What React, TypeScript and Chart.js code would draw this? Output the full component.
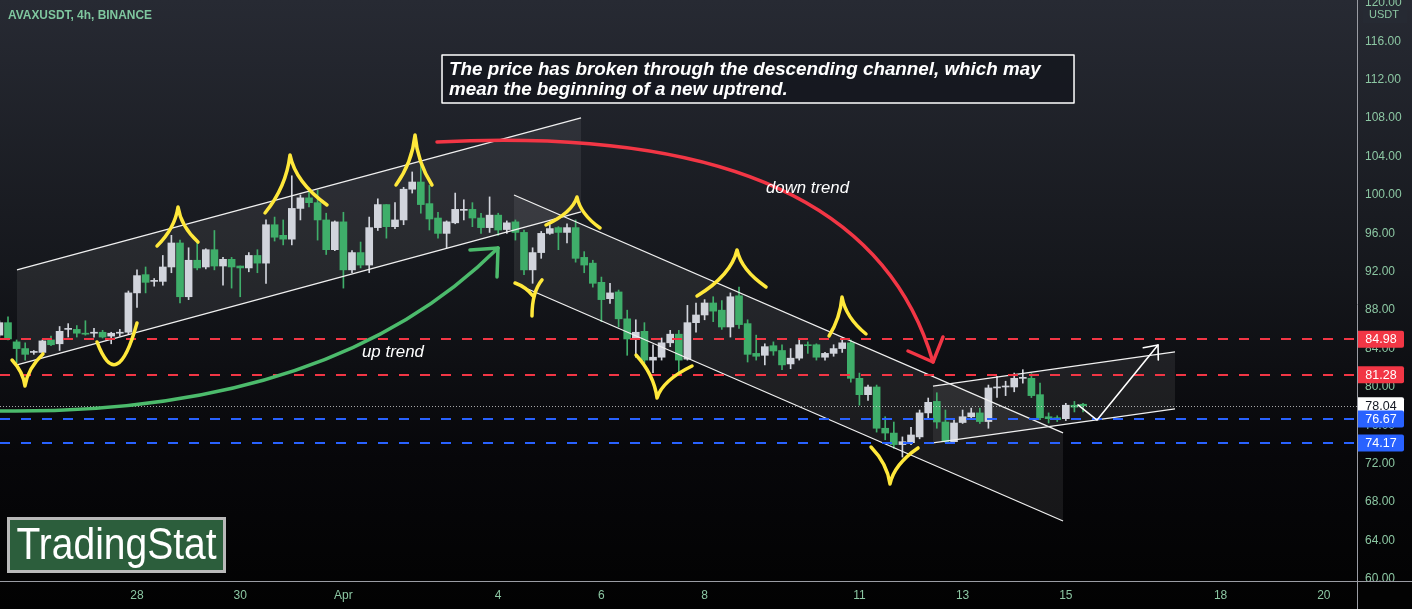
import React, { useEffect, useRef } from "react";
import { Chart, registerables } from "chart.js";

Chart.register(...registerables);

// 4h candles; index 0 = Mar 28 00:00. First candle index:
const FIRST_INDEX = -16;
const CANDLES_PER_DAY = 6;

const opens = [
  85.4, 86.7, 84.7, 84.0, 83.6, 83.6, 84.9, 84.5, 86.0, 86.0, 85.6, 85.6, 85.7, 85.3, 85.6, 85.7,
  89.8, 91.7, 91.0, 91.0, 92.5, 95.0, 89.4, 93.2, 92.5, 94.3, 92.6, 93.3, 92.6, 92.4, 93.7, 92.9,
  96.9, 95.8, 95.4, 98.6, 99.7, 99.2, 97.4, 94.3, 97.2, 92.2, 94.0, 92.7, 96.6, 99.0, 96.7, 97.4,
  100.6, 101.35, 99.1, 97.6, 96.0, 97.1, 98.4, 98.5, 97.6, 96.6, 97.9, 96.4, 97.2, 96.1, 92.2, 94.0,
  96.0, 96.6, 96.1, 96.6, 93.5, 92.9, 90.9, 89.2, 89.9, 87.1, 85.1, 85.8, 82.8, 83.1, 84.6, 85.5,
  82.9, 86.7, 87.5, 88.75, 88.0, 86.25, 89.5, 86.6, 83.5, 83.3, 84.3, 83.8, 82.4, 83.0, 84.4, 84.4,
  83.1, 83.5, 84.0, 84.6, 80.9, 79.2, 80.0, 75.7, 75.2, 74.0, 74.2, 74.8, 77.3, 78.5, 76.35, 74.3,
  76.3, 76.9, 77.3, 76.4, 79.9, 80.0, 80.0, 80.9, 80.9, 79.2, 76.9, 76.8, 76.7, 78.1, 78.2,
];
const highs = [
  86.9, 87.3, 84.9, 84.6, 83.8, 84.9, 85.3, 86.3, 86.6, 86.4, 86.9, 86.1, 85.9, 85.7, 86.0, 90.0,
  92.2, 92.5, 91.3, 93.7, 95.8, 95.3, 94.5, 95.1, 94.4, 96.3, 93.5, 93.5, 92.6, 94.0, 94.3, 97.4,
  97.7, 97.4, 102.0, 100.0, 100.3, 100.5, 98.1, 97.3, 98.2, 94.2, 95.1, 97.7, 99.6, 99.0, 99.2, 100.8,
  102.4, 103.3, 101.0, 98.2, 97.3, 100.2, 99.5, 99.2, 98.1, 99.8, 98.1, 97.3, 97.4, 96.35, 94.5, 96.2,
  96.9, 96.7, 97.0, 97.4, 94.1, 93.2, 91.45, 90.8, 90.1, 88.0, 87.0, 86.7, 84.4, 85.1, 85.9, 85.9,
  88.5, 88.75, 89.1, 89.4, 89.0, 89.8, 90.4, 87.0, 85.4, 84.5, 84.7, 84.4, 84.0, 84.9, 84.7, 84.5,
  83.6, 84.4, 85.1, 84.9, 81.45, 80.2, 80.2, 76.9, 76.35, 74.8, 75.8, 77.6, 78.85, 79.4, 77.6, 76.6,
  77.6, 77.8, 77.8, 80.2, 81.1, 80.6, 81.45, 81.8, 81.4, 80.4, 77.3, 77.0, 78.3, 78.5, 78.3,
];
const lows = [
  85.2, 84.9, 82.5, 82.8, 83.4, 83.5, 84.3, 83.8, 85.2, 85.2, 85.4, 85.2, 85.1, 84.5, 85.3, 85.5,
  88.3, 89.8, 90.5, 90.6, 91.9, 88.75, 89.1, 92.2, 92.3, 92.2, 90.6, 90.3, 89.4, 92.0, 91.9, 90.8,
  95.2, 94.8, 94.8, 97.4, 98.75, 95.3, 93.8, 94.2, 90.3, 91.9, 92.4, 91.9, 96.3, 95.5, 96.5, 96.9,
  100.2, 98.1, 96.35, 95.5, 94.5, 97.0, 97.4, 96.7, 96.0, 96.1, 95.8, 96.0, 95.3, 91.7, 90.8, 93.4,
  95.9, 94.3, 95.0, 93.0, 91.9, 90.4, 86.8, 88.7, 86.25, 83.3, 83.1, 82.5, 81.5, 82.8, 84.2, 81.25,
  82.8, 85.7, 87.0, 86.8, 86.0, 85.2, 86.1, 82.6, 82.8, 82.3, 83.3, 81.8, 81.9, 82.8, 83.5, 82.8,
  82.8, 83.2, 83.6, 80.5, 78.1, 78.6, 75.3, 74.5, 73.6, 72.7, 74.0, 74.6, 76.8, 75.7, 74.2, 74.1,
  76.2, 76.7, 76.2, 75.7, 78.9, 79.1, 79.5, 80.4, 78.9, 76.6, 76.25, 76.4, 76.5, 77.4, 77.4,
];
const closes = [
  86.7, 85.0, 84.0, 83.4, 83.7, 84.8, 84.4, 85.8, 86.1, 85.6, 85.5, 85.7, 85.2, 85.6, 85.7, 89.8,
  91.6, 90.9, 91.1, 92.5, 95.0, 89.4, 93.2, 92.4, 94.3, 92.6, 93.3, 92.5, 92.4, 93.7, 92.9, 96.9,
  95.6, 95.4, 98.6, 99.7, 99.2, 97.4, 94.3, 97.2, 92.2, 94.0, 92.7, 96.6, 99.0, 96.7, 97.4, 100.6,
  101.35, 99.0, 97.5, 96.0, 97.2, 98.5, 98.5, 97.6, 96.6, 97.9, 96.35, 97.1, 96.1, 92.2, 94.0, 96.0,
  96.5, 96.1, 96.6, 93.4, 92.7, 90.8, 89.1, 89.8, 87.1, 85.0, 85.7, 82.8, 83.1, 84.6, 85.5, 82.8,
  86.7, 87.5, 88.75, 87.9, 86.25, 89.4, 86.5, 83.4, 83.2, 84.2, 83.75, 82.3, 83.0, 84.4, 84.3, 83.1,
  83.5, 84.0, 84.6, 80.9, 79.2, 80.0, 75.7, 75.2, 74.0, 74.3, 75.0, 77.3, 78.4, 76.35, 74.3, 76.25,
  76.9, 77.3, 76.4, 79.9, 80.0, 80.1, 80.9, 81.0, 79.1, 76.8, 76.7, 76.6, 78.1, 77.9, 78.04,
];

// axis ticks (days from Mar 28)
const dateTickDays = [0, 2, 4, 7, 9, 11, 14, 16, 18, 21, 23];
const dateTickLabels = ["28", "30", "Apr", "4", "6", "8", "11", "13", "15", "18", "20"];
const priceTicks = [60, 64, 68, 72, 76, 80, 84, 88, 92, 96, 100, 104, 108, 112, 116, 120];

const X_MIN = -2.655;
const X_MAX = 23.643;
const Y_MIN = 59.79;
const Y_MAX = 120.31;

// price levels
const resistanceLevels = [84.98, 81.28];
const supportLevels = [76.67, 74.17];
const lastPrice = 78.04;

// drawings, in (day, price)
const ascChannel = [[-2.326, 92.19], [8.605, 108.02], [8.605, 98.23], [-2.326, 82.29]];
const descChannel = [[7.306, 100.0], [17.946, 75.21], [17.946, 66.04], [7.306, 90.83]];
const riseChannel = [[15.426, 80.1], [20.116, 83.65], [20.116, 77.71], [15.426, 74.17]];

const greenCurve = [[-2.655, 77.5], [3.74, 77.08], [6.996, 94.48]];
const greenWings = [[6.453, 94.27], [6.977, 91.46]];
const redCurve = [[5.814, 105.52], [10.523, 106.77], [14.399, 101.56], [15.426, 82.6]];
const redWings = [[14.942, 83.75], [15.62, 85.21]];
const whitePath = [[18.236, 78.125], [18.605, 76.56], [19.787, 84.375]];

const peakMarks = [
  [[-2.422, 82.81], [-2.171, 80.1], [-1.822, 83.44]],
  [[0.388, 94.69], [0.795, 98.75], [1.182, 95.1]],
  [[2.481, 98.125], [2.965, 104.17], [3.682, 98.96]],
  [[5.019, 101.04], [5.388, 106.25], [5.717, 101.04]],
  [[7.926, 96.875], [8.527, 99.79], [8.973, 96.56]],
  [[9.671, 83.33], [10.078, 78.85], [10.756, 82.19]],
  [[10.853, 89.48], [11.628, 94.27], [12.19, 90.42]],
  [[13.411, 85.31], [13.663, 89.375], [14.128, 85.52]],
  [[14.225, 73.75], [14.593, 69.9], [15.136, 73.65]],
];
const uMarks = [[[-0.775, 84.69], [-0.388, 82.4], [0, 86.67]]];
const strokeMarks = [
  [[7.326, 90.83], [7.539, 90.42], [7.674, 89.48]],
  [[7.849, 91.15], [7.655, 89.9], [7.655, 87.4]],
];

const noteBox = [[5.911, 114.58], [18.159, 109.58]];
const noteLines = [
  "The price has broken through the descending channel, which may",
  "mean the beginning of a new uptrend.",
];
const upTrendLabel = { text: "up trend", at: [4.36, 83.65] };
const downTrendLabel = { text: "down trend", at: [12.19, 100.73] };

const UP_COLOR = "#d1d4dc";
const DOWN_COLOR = "#3fae6a";
const AXIS_TEXT = "#8cc7a3";
const RED = "#f23645";
const BLUE = "#2962ff";
const YELLOW = "#ffe83b";
const FONT = "'Liberation Sans', Arial, sans-serif";

function fitFont(ctx: CanvasRenderingContext2D, text: string, w: number, style: string) {
  ctx.font = `${style} 20px ${FONT}`;
  const m = ctx.measureText(text).width;
  const size = (20 * w) / m;
  return `${style} ${size.toFixed(2)}px ${FONT}`;
}

const drawPlugin = {
  id: "drawings",
  beforeDraw(chart: any) {
    const { ctx, width, height } = chart;
    ctx.save();
    const g = ctx.createLinearGradient(0, 0, 0, height);
    g.addColorStop(0, "#272a33");
    g.addColorStop(0.45, "#15171c");
    g.addColorStop(0.75, "#07070a");
    g.addColorStop(1, "#020202");
    ctx.fillStyle = g;
    ctx.fillRect(0, 0, width, height);
    ctx.restore();
  },
  beforeDatasetsDraw(chart: any) {
    const { ctx, chartArea: a } = chart;
    const P = (d: number[]) => [chart.scales.x.getPixelForValue(d[0]), chart.scales.y.getPixelForValue(d[1])];
    ctx.save();
    ctx.beginPath();
    ctx.rect(a.left, a.top, a.right - a.left, a.bottom - a.top);
    ctx.clip();
    for (const ch of [ascChannel, descChannel, riseChannel]) {
      ctx.beginPath();
      ch.forEach((pt, i) => {
        const [x, y] = P(pt);
        if (i === 0) ctx.moveTo(x, y);
        else ctx.lineTo(x, y);
      });
      ctx.closePath();
      ctx.fillStyle = "rgba(255,255,255,0.075)";
      ctx.fill();
    }
    ctx.restore();
  },
  afterDatasetsDraw(chart: any) {
    const { ctx, chartArea: a } = chart;
    const xs = chart.scales.x;
    const ys = chart.scales.y;
    const P = (d: number[]) => [xs.getPixelForValue(d[0]), ys.getPixelForValue(d[1])];
    ctx.save();
    ctx.beginPath();
    ctx.rect(a.left, a.top, a.right - a.left, a.bottom - a.top);
    ctx.clip();

    // channel borders
    ctx.strokeStyle = "#f0f0f0";
    ctx.lineWidth = 1.3;
    for (const ch of [ascChannel, descChannel, riseChannel]) {
      for (const [p, q] of [[ch[0], ch[1]], [ch[3], ch[2]]]) {
        const [x1, y1] = P(p);
        const [x2, y2] = P(q);
        ctx.beginPath();
        ctx.moveTo(x1, y1);
        ctx.lineTo(x2, y2);
        ctx.stroke();
      }
    }

    // horizontal levels
    const hline = (price: number, color: string, dash: number[], w: number) => {
      const y = Math.round(ys.getPixelForValue(price)) + (w % 2 ? 0.5 : 0);
      ctx.beginPath();
      ctx.setLineDash(dash);
      ctx.strokeStyle = color;
      ctx.lineWidth = w;
      ctx.moveTo(a.left, y);
      ctx.lineTo(a.right, y);
      ctx.stroke();
      ctx.setLineDash([]);
    };
    resistanceLevels.forEach((p) => hline(p, RED, [10, 11], 2));
    supportLevels.forEach((p) => hline(p, BLUE, [10, 11], 2));
    hline(lastPrice, "rgba(220,220,220,0.75)", [1, 2], 1);

    ctx.lineCap = "round";
    ctx.lineJoin = "round";

    // green curved arrow
    {
      const [p0, c, t] = greenCurve.map(P);
      ctx.strokeStyle = "#4cbb6c";
      ctx.lineWidth = 3.5;
      ctx.beginPath();
      ctx.moveTo(p0[0], p0[1]);
      ctx.quadraticCurveTo(c[0], c[1], t[0], t[1]);
      ctx.stroke();
      const [w1, w2] = greenWings.map(P);
      ctx.beginPath();
      ctx.moveTo(w1[0], w1[1]);
      ctx.lineTo(t[0], t[1]);
      ctx.lineTo(w2[0], w2[1]);
      ctx.stroke();
    }
    // red curved arrow
    {
      const [p0, c1, c2, t] = redCurve.map(P);
      ctx.strokeStyle = RED;
      ctx.lineWidth = 3.5;
      ctx.beginPath();
      ctx.moveTo(p0[0], p0[1]);
      ctx.bezierCurveTo(c1[0], c1[1], c2[0], c2[1], t[0], t[1]);
      ctx.stroke();
      const [w1, w2] = redWings.map(P);
      ctx.beginPath();
      ctx.moveTo(w1[0], w1[1]);
      ctx.lineTo(t[0], t[1]);
      ctx.lineTo(w2[0], w2[1]);
      ctx.stroke();
    }
    // white zigzag arrow
    {
      const pts = whitePath.map(P);
      ctx.strokeStyle = "#ffffff";
      ctx.lineWidth = 1.6;
      ctx.beginPath();
      pts.forEach(([x, y], i) => (i ? ctx.lineTo(x, y) : ctx.moveTo(x, y)));
      ctx.stroke();
      const [px, py] = pts[pts.length - 2];
      const [tx, ty] = pts[pts.length - 1];
      const ang = Math.atan2(py - ty, px - tx);
      const L = 15;
      ctx.beginPath();
      ctx.moveTo(tx + L * Math.cos(ang + 0.7), ty + L * Math.sin(ang + 0.7));
      ctx.lineTo(tx, ty);
      ctx.lineTo(tx + L * Math.cos(ang - 0.7), ty + L * Math.sin(ang - 0.7));
      ctx.stroke();
    }

    // yellow hand marks
    ctx.strokeStyle = YELLOW;
    ctx.lineWidth = 3.5;
    for (const m of peakMarks) {
      const [L, Pk, R] = m.map(P);
      ctx.beginPath();
      ctx.moveTo(L[0], L[1]);
      ctx.quadraticCurveTo(Pk[0] - 0.15 * (Pk[0] - L[0]), Pk[1] + 0.55 * (L[1] - Pk[1]), Pk[0], Pk[1]);
      ctx.quadraticCurveTo(Pk[0] + 0.15 * (R[0] - Pk[0]), Pk[1] + 0.55 * (R[1] - Pk[1]), R[0], R[1]);
      ctx.stroke();
    }
    for (const m of uMarks) {
      const [L, B, R] = m.map(P);
      const cx = 2 * B[0] - (L[0] + R[0]) / 2;
      const cy = 2 * B[1] - (L[1] + R[1]) / 2;
      ctx.beginPath();
      ctx.moveTo(L[0], L[1]);
      ctx.quadraticCurveTo(cx, cy, R[0], R[1]);
      ctx.stroke();
    }
    for (const m of strokeMarks) {
      const [s, c, e] = m.map(P);
      ctx.beginPath();
      ctx.moveTo(s[0], s[1]);
      ctx.quadraticCurveTo(c[0], c[1], e[0], e[1]);
      ctx.stroke();
    }

    // text labels
    ctx.fillStyle = "#ffffff";
    ctx.textBaseline = "middle";
    ctx.textAlign = "left";
    {
      const [x, y] = P(upTrendLabel.at);
      ctx.font = fitFont(ctx, upTrendLabel.text, 62, "italic");
      ctx.fillText(upTrendLabel.text, x, y);
    }
    {
      const [x, y] = P(downTrendLabel.at);
      ctx.font = fitFont(ctx, downTrendLabel.text, 83, "italic");
      ctx.fillText(downTrendLabel.text, x, y);
    }

    // note box
    {
      const [x1, y1] = P(noteBox[0]);
      const [x2, y2] = P(noteBox[1]);
      ctx.fillStyle = "rgba(22,24,31,0.92)";
      ctx.fillRect(x1, y1, x2 - x1, y2 - y1);
      ctx.strokeStyle = "#ffffff";
      ctx.lineWidth = 1.5;
      ctx.strokeRect(x1, y1, x2 - x1, y2 - y1);
      ctx.fillStyle = "#ffffff";
      ctx.font = fitFont(ctx, noteLines[0], 592, "italic bold");
      ctx.fillText(noteLines[0], x1 + 7, y1 + 15);
      ctx.fillText(noteLines[1], x1 + 7, y1 + 35);
    }
    ctx.restore();
  },
  afterDraw(chart: any) {
    const { ctx, chartArea: a, width, height } = chart;
    const ys = chart.scales.y;
    ctx.save();
    // cover the part of axis below the time axis line
    ctx.fillStyle = "#030303";
    ctx.fillRect(a.right + 1, a.bottom + 1, width - a.right, height - a.bottom);

    // axis lines
    ctx.strokeStyle = "#9a9ca3";
    ctx.lineWidth = 1;
    ctx.beginPath();
    ctx.moveTo(0, a.bottom + 0.5);
    ctx.lineTo(width, a.bottom + 0.5);
    ctx.moveTo(a.right + 0.5, 0);
    ctx.lineTo(a.right + 0.5, height);
    ctx.stroke();

    // USDT label
    ctx.fillStyle = "#262a33";
    ctx.fillRect(a.right + 6, 6, 44, 17);
    ctx.fillStyle = AXIS_TEXT;
    ctx.font = `11px ${FONT}`;
    ctx.textAlign = "center";
    ctx.textBaseline = "middle";
    ctx.fillText("USDT", a.right + 27, 15);

    // price labels
    const tag = (price: number, bg: string, fg: string) => {
      const y = ys.getPixelForValue(price);
      ctx.fillStyle = bg;
      ctx.beginPath();
      const x = a.right + 1;
      const w = 46;
      const h = 17;
      const r = 2;
      ctx.moveTo(x, y - h / 2);
      ctx.lineTo(x + w - r, y - h / 2);
      ctx.quadraticCurveTo(x + w, y - h / 2, x + w, y - h / 2 + r);
      ctx.lineTo(x + w, y + h / 2 - r);
      ctx.quadraticCurveTo(x + w, y + h / 2, x + w - r, y + h / 2);
      ctx.lineTo(x, y + h / 2);
      ctx.closePath();
      ctx.fill();
      ctx.fillStyle = fg;
      ctx.font = `12.5px ${FONT}`;
      ctx.textAlign = "center";
      ctx.fillText(price.toFixed(2), x + w / 2, y + 0.5);
    };
    resistanceLevels.forEach((p) => tag(p, RED, "#ffffff"));
    tag(lastPrice, "#ffffff", "#131722");
    supportLevels.forEach((p) => tag(p, BLUE, "#ffffff"));

    // title
    ctx.textAlign = "left";
    ctx.fillStyle = "#7fc79f";
    ctx.font = fitFont(ctx, "AVAXUSDT, 4h, BINANCE", 144, "bold");
    ctx.fillText("AVAXUSDT, 4h, BINANCE", 8, 16);

    // logo
    ctx.fillStyle = "#2c5e3c";
    ctx.fillRect(7, 517, 219, 56);
    ctx.strokeStyle = "#b9b9b9";
    ctx.lineWidth = 3;
    ctx.strokeRect(8.5, 518.5, 216, 53);
    ctx.fillStyle = "#ffffff";
    ctx.font = `44px ${FONT}`;
    const tw = ctx.measureText("TradingStat").width;
    ctx.save();
    ctx.translate(116.5, 547);
    ctx.scale(200 / tw, 1);
    ctx.textAlign = "center";
    ctx.fillText("TradingStat", 0, 0);
    ctx.restore();
    ctx.restore();
  },
};

export default function App() {
  const ref = useRef<HTMLCanvasElement>(null);
  useEffect(() => {
    document.body.style.margin = "0";
    document.body.style.background = "#000";
    const canvas = ref.current!;
    const xs = opens.map((_, i) => (FIRST_INDEX + i) / CANDLES_PER_DAY);
    const colors = opens.map((o, i) => (closes[i] >= o ? UP_COLOR : DOWN_COLOR));
    const bodies = xs.map((x, i) => ({ x, y: [Math.min(opens[i], closes[i]), Math.max(opens[i], closes[i])] }));
    const wicks = xs.map((x, i) => ({ x, y: [lows[i], highs[i]] }));
    const chart = new Chart(canvas, {
      type: "bar",
      data: {
        datasets: [
          { data: bodies as any, backgroundColor: colors, barThickness: 7, minBarLength: 1, grouped: false, borderWidth: 0 } as any,
          { data: wicks as any, backgroundColor: colors, barThickness: 1, minBarLength: 1, grouped: false, borderWidth: 0 } as any,
        ],
      },
      options: {
        responsive: false,
        animation: false,
        events: [],
        devicePixelRatio: 1,
        layout: { padding: 0 },
        plugins: { legend: { display: false }, tooltip: { enabled: false } },
        scales: {
          x: {
            type: "linear",
            min: X_MIN,
            max: X_MAX,
            offset: false,
            grid: { display: false, offset: false },
            border: { display: false },
            ticks: {
              color: AXIS_TEXT,
              font: { family: FONT, size: 12 },
              padding: -1,
              maxRotation: 0,
              autoSkip: false,
              callback: (_v: any, i: number) => dateTickLabels[i],
            },
            afterBuildTicks: (s: any) => {
              s.ticks = dateTickDays.map((v) => ({ value: v }));
            },
            afterFit: (s: any) => {
              s.height = 28;
              s.paddingLeft = 0;
              s.paddingRight = 0;
            },
          },
          y: {
            type: "linear",
            position: "right",
            min: Y_MIN,
            max: Y_MAX,
            grid: { display: false },
            border: { display: false },
            ticks: {
              color: AXIS_TEXT,
              font: { family: FONT, size: 12 },
              padding: 0,
              callback: (v: any) => Number(v).toFixed(2),
            },
            afterBuildTicks: (s: any) => {
              s.ticks = priceTicks.map((v) => ({ value: v }));
            },
            afterFit: (s: any) => {
              s.width = 55;
              s.paddingTop = 0;
              s.paddingBottom = 0;
            },
          },
        },
      } as any,
      plugins: [drawPlugin],
    });
    return () => chart.destroy();
  }, []);
  return (
    <div style={{ width: 1412, height: 609, overflow: "hidden" }}>
      <canvas ref={ref} width={1412} height={609} style={{ display: "block" }} />
    </div>
  );
}
